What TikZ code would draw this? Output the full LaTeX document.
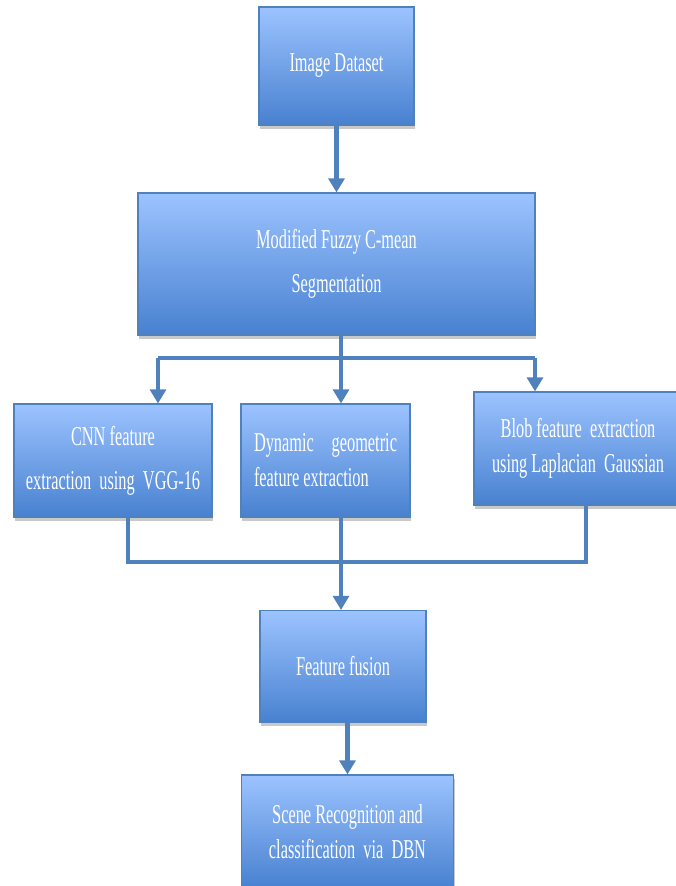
\documentclass[tikz,border=0pt]{standalone}
\usepackage{fontspec}
\setmainfont{Liberation Serif}[FakeStretch=0.6]
\usepackage{tikz}
\usetikzlibrary{arrows.meta,shadows}
\definecolor{boxtop}{RGB}{156,195,255}
\definecolor{boxbot}{RGB}{72,129,208}
\definecolor{boxline}{RGB}{79,129,189}
\tikzset{
    flowbox/.style={draw=boxline, line width=0.6pt, top color=boxtop, bottom color=boxbot,
        text=white, align=center, inner sep=0pt,
        font=\fontsize{15.5pt}{25pt}\selectfont,
        drop shadow={shadow xshift=0.6pt, shadow yshift=-2.2pt, opacity=0.3, fill=black!70}},
    flowline/.style={draw=boxline, line width=2.8pt},
    flowarrow/.style={flowline, -{Triangle[length=8pt,width=9pt]}}
}

\begin{document}
\begin{tikzpicture}
                    \useasboundingbox (0,0) rectangle (13.52,17.72);
                    % Define nodes
                    \node (data) at (6.73,16.40) [flowbox, minimum width=3.1cm, minimum height=2.36cm] {Image Dataset};
                    \node (fcm) at (6.73,12.44) [flowbox, minimum width=7.94cm, minimum height=2.84cm] {Modified Fuzzy C-mean\\Segmentation};
                    \node (cnn) at (2.26,8.51) [flowbox, minimum width=3.96cm, minimum height=2.26cm] {CNN feature\\extraction\ \ using\ \ VGG-16};
                    \node (dyn) at (6.51,8.51) [flowbox, minimum width=3.38cm, minimum height=2.26cm, text width=2.86cm, align=flush left, font=\fontsize{15.5pt}{20pt}\selectfont] {Dynamic\hfill geometric\\feature extraction};
                    \node (blob) at (11.56,8.75) [flowbox, minimum width=4.16cm, minimum height=2.26cm, font=\fontsize{15.5pt}{20pt}\selectfont] {Blob feature\ \ extraction\\using Laplacian\ \ Gaussian};
                    \node (fus) at (6.86,4.39) [flowbox, minimum width=3.32cm, minimum height=2.24cm] {Feature fusion};
                    \node (scene) at (6.95,1.09) [flowbox, minimum width=4.24cm, minimum height=2.26cm, font=\fontsize{15.5pt}{20pt}\selectfont] {Scene Recognition and\\classification\ \ via\ \ DBN};

                    % Split and join points
                    \coordinate (split) at (6.82,10.56);
                    \coordinate (splitL) at (3.16,10.56);
                    \coordinate (splitR) at (10.70,10.56);
                    \coordinate (join) at (6.82,6.48);
                    \coordinate (joinL) at (2.56,6.48);
                    \coordinate (joinR) at (11.72,6.48);

                    % Draw arrows between the boxes
                    \draw[flowarrow] (data) -- (fcm);
                    \draw[flowline] (fcm.south -| split) -- (split);
                    \draw[flowline] (splitL) -- (splitR);
                    \draw[flowarrow] (splitL) -- (splitL |- cnn.north);
                    \draw[flowarrow] (split) -- (split |- dyn.north);
                    \draw[flowarrow] (splitR) -- (splitR |- blob.north);
                    \draw[flowline] (joinL |- cnn.south) -- (joinL) -- (joinR) -- (joinR |- blob.south);
                    \draw[flowline] (join |- dyn.south) -- (join);
                    \draw[flowarrow] (join) -- (join |- fus.north);
                    \draw[flowarrow] (fus.south -| scene.north) -- (scene.north);
                \end{tikzpicture}
\end{document}
